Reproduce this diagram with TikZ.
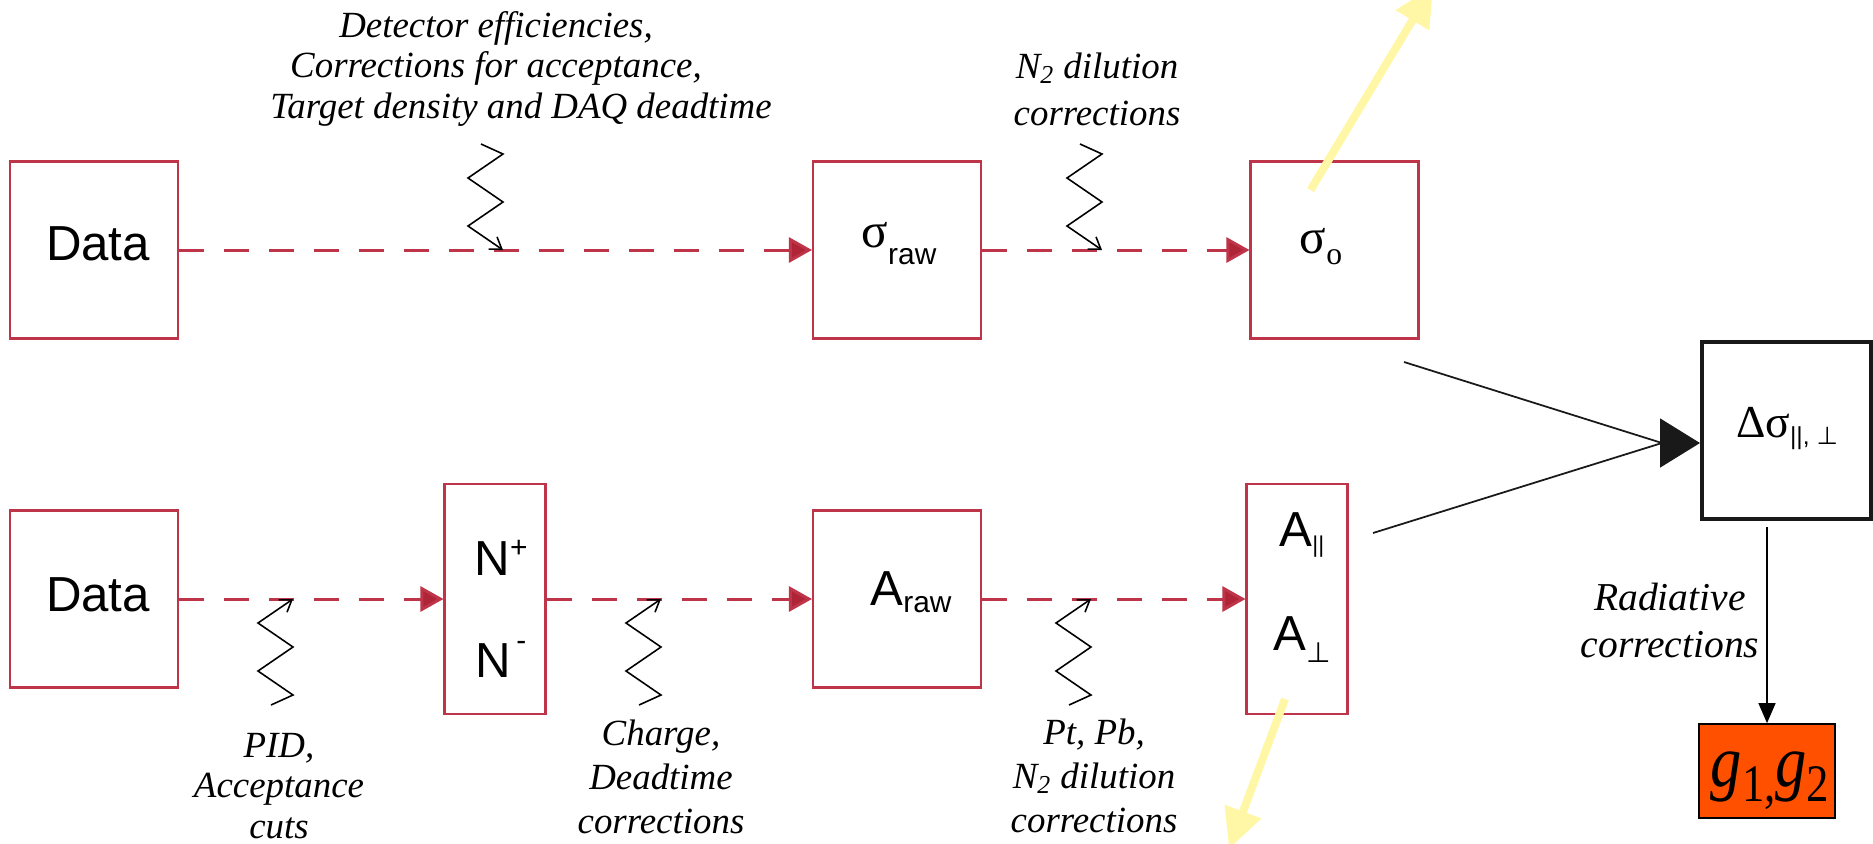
\documentclass[tikz,border=0pt]{standalone}
\usepackage{graphicx}
\usepackage{fontspec}
\setmainfont{Liberation Serif}
\setsansfont{Liberation Sans}
\newfontfamily\symfont{DejaVu Sans}
\usetikzlibrary{arrows.meta,calc}

\definecolor{boxred}{RGB}{190,52,72}
\definecolor{tipred}{RGB}{176,36,56}
\definecolor{paleyellow}{RGB}{255,246,166}
\definecolor{gorange}{RGB}{255,80,0}
\newcommand{\lowered}[3]{\raisebox{#1}{\fontsize{#2}{#2}\selectfont #3}}

\begin{document}
\begin{tikzpicture}[x=0.02cm,y=-0.02cm,
    stage/.style={draw=boxred,line width=1.2pt,minimum width=3.36cm,minimum height=3.54cm},
    slim/.style={stage,minimum width=2.02cm,minimum height=4.6cm},
    word/.style={anchor=base,align=center,font=\sffamily\fontsize{28}{58}\selectfont},
    hint/.style={anchor=base,align=center,font=\itshape\fontsize{21}{25}\selectfont},
    flow/.style={draw=boxred,line width=1.7pt,dash pattern=on 0.5cm off 0.4cm,
        -{Triangle[length=0.46cm,width=0.5cm,fill=tipred]}},
    pale/.style={draw=paleyellow,line width=0.16cm,-{Triangle[length=0.8cm,width=0.74cm]}},
    kink/.pic={\draw[line width=0.9pt,-{Straight Barb[length=0.22cm,width=0.3cm]}]
        (-22,106) -- (0,96) -- (-35,72) -- (0,48) -- (-35,24) -- (0,0);}]
\clip (0,0) rectangle (1873,843);

\node[stage] (d1) at (94,250) {};
\node[stage] (sraw) at (897,250) {};
\node[stage] (so) at (1334.5,250) {};
\node[stage] (d2) at (94,599) {};
\node[slim] (npm) at (495,599) {};
\node[stage] (araw) at (897,599) {};
\node[slim] (apar) at (1297,599) {};
\node[stage,draw=black!90,line width=2.3pt,minimum width=3.38cm] (dsig) at (1786.5,430.5) {};
\node[draw=black,line width=1pt,fill=gorange,minimum width=2.72cm,minimum height=1.88cm] (gg) at (1767,771) {};

% texts in the boxes (base = last line)
\node[word] (d1t) at (98,260) {Data};
\node[word] (d2t) at (98,611) {Data};
\node[anchor=base] (srawt) at (899,247) {\fontsize{28}{28}\selectfont σ\lowered{-10pt}{17}{\sffamily raw}};
\node[anchor=base] (sot) at (1321,253) {\fontsize{28}{28}\selectfont σ\lowered{-6.5pt}{18}{o}};
\node[word] (npmt) at (501,677) {N\lowered{10pt}{17}{+}\\N\hspace{3pt}\lowered{15pt}{17}{-}};
\node[word] (arawt) at (911,605) {A\lowered{-4.5pt}{17}{raw}};
\node[word,font=\sffamily\fontsize{28}{59}\selectfont] (apart) at (1302,650) {A\lowered{-3.5pt}{13}{||}\\A\lowered{-7pt}{16}{\symfont ⊥}};
\node[anchor=base] (dsigt) at (1787,437) {\fontsize{26}{26}\selectfont Δσ\lowered{-4pt}{14}{\sffamily ||, \symfont ⊥}};
\node[anchor=base] (ggt) at (1770,786) {\scalebox{0.85}[1]{\fontsize{42}{42}\selectfont\itshape g\lowered{-9pt}{30}{\upshape 1,}g\lowered{-9pt}{30}{\upshape 2}}};

% correction notes
\node[hint,font=\itshape\fontsize{21}{23}\selectfont] (acct) at (496,118) {Detector efficiencies,\\Corrections for acceptance,\\\hspace*{1cm}Target density and DAQ deadtime};
\node[hint,font=\itshape\fontsize{21}{26.5}\selectfont] (dilt) at (1097,125) {N\textsubscript{2} dilution\\corrections};
\node[hint,font=\itshape\fontsize{21}{23}\selectfont] (pidt) at (279,838) {PID,\\Acceptance\\cuts};
\node[hint] (chgt) at (661,833) {Charge,\\Deadtime\\corrections};
\node[hint] (ptt) at (1094,832) {Pt, Pb,\\N\textsubscript{2} dilution\\corrections};
\node[hint,font=\itshape\fontsize{22.5}{26.5}\selectfont] (radt) at (1670,657) {Radiative\\corrections};

\foreach \a/\b in {d1/sraw,sraw/so,d2/npm,npm/araw,araw/apar}{
    \draw[flow] (\a) -- (\b);
}

\coordinate (k1) at (503,250);
\coordinate (k2) at (1102,250);
\coordinate (k3) at (293,599);
\coordinate (k4) at (661,599);
\coordinate (k5) at (1091,599);
\foreach \k in {k1,k2}{
    \pic[yscale=-1] at (\k) {kink};
}
\foreach \k in {k3,k4,k5}{
    \pic at (\k) {kink};
}

\coordinate (sTail) at (1404,362);
\coordinate (aTail) at (1373,533);
\coordinate (hub) at (1662,443);
\draw[black!90,line width=1pt] (sTail) -- (hub) (aTail) -- (hub);
\draw[black!90,line width=1pt,-{Triangle[length=0.8cm,width=0.98cm]}] (hub) -- (hub -| dsig.west);
\draw[line width=0.8pt,shorten <=0.12cm,-{Triangle[length=0.4cm,width=0.34cm]}] (dsig.south -| gg.north) -- (gg.north);

\coordinate (upTip) at (1433,-14);
\coordinate (downTip) at (1229,849);
\draw[pale] ($(so)+(-24,-60)$) -- (upTip);
\draw[pale] ($(apar)+(-12,100)$) -- (downTip);
\end{tikzpicture}
\end{document}
